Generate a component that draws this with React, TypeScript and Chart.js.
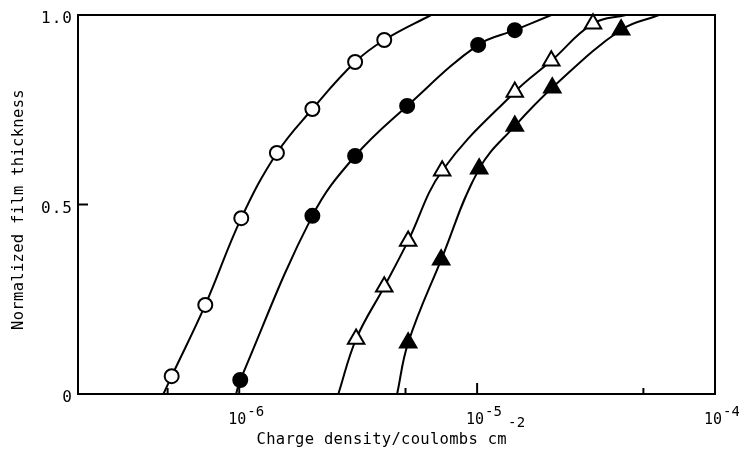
import React, { useEffect, useRef } from 'react';
import { Chart, registerables } from 'chart.js';

Chart.register(...registerables);

// ---- Data ----
// Open circles
const openCircleX = [5.2e-7, 7.2e-7, 1.02e-6, 1.44e-6, 2.03e-6, 3.07e-6, 4.07e-6];
const openCircleY = [0.047, 0.235, 0.464, 0.636, 0.752, 0.876, 0.934];
const openCircleCurveEnds = [4.8e-7, 6.4e-6];

// Filled circles
const filledCircleX = [1.01e-6, 2.03e-6, 3.07e-6, 5.08e-6, 1.01e-5, 1.44e-5];
const filledCircleY = [0.037, 0.47, 0.628, 0.76, 0.921, 0.96];
const filledCircleCurveEnds = [9.7e-7, 2.05e-5];

// Open triangles
const openTriangleX = [3.1e-6, 4.07e-6, 5.13e-6, 7.13e-6, 1.44e-5, 2.05e-5, 3.07e-5];
const openTriangleY = [0.145, 0.283, 0.404, 0.589, 0.797, 0.879, 0.977];
const openTriangleCurveEnds = [2.61e-6, 4.22e-5];

// Filled triangles
const filledTriangleX = [5.13e-6, 7.06e-6, 1.02e-5, 1.44e-5, 2.07e-5, 4.03e-5];
const filledTriangleY = [0.135, 0.354, 0.594, 0.707, 0.808, 0.961];
const filledTriangleCurveEnds = [4.61e-6, 5.82e-5];

// Axes
const xMin = 2.1e-7;
const xMax = 1e-4;
const xLabelValues = [1e-6, 1e-5, 1e-4];
const xLabelExponents = ['-6', '-5', '-4'];
const xMajorTicks = [1e-6, 1e-5];
const xMinorTicks = [5e-7, 5e-6, 5e-5];
const yLabelValues = [0, 0.5, 1.0];
const yLabels = ['0', '0.5', '1.0'];
const yTicks = [0.5];
const xTitle = 'Charge density/coulombs cm';
const xTitleExp = '-2';
const yTitle = 'Normalized film thickness';

const FONT = '"DejaVu Sans Mono", "Liberation Mono", monospace';

export default function App() {
  const ref = useRef<HTMLCanvasElement>(null);

  useEffect(() => {
    const canvas = ref.current;
    if (!canvas) return;

    const series = [
      { xs: openCircleX, ys: openCircleY, ends: openCircleCurveEnds, style: 'circle', fill: '#ffffff', r: 7 },
      { xs: filledCircleX, ys: filledCircleY, ends: filledCircleCurveEnds, style: 'circle', fill: '#000000', r: 7 },
      { xs: openTriangleX, ys: openTriangleY, ends: openTriangleCurveEnds, style: 'triangle', fill: '#ffffff', r: 9.5 },
      { xs: filledTriangleX, ys: filledTriangleY, ends: filledTriangleCurveEnds, style: 'triangle', fill: '#000000', r: 9.5 },
    ];

    const datasets = series.map((s) => {
      const data = [
        { x: s.ends[0], y: 0 },
        ...s.xs.map((x, i) => ({ x, y: s.ys[i] })),
        { x: s.ends[1], y: 1 },
      ];
      const radii = data.map((_, i) => (i === 0 || i === data.length - 1 ? 0 : s.r));
      return {
        data,
        showLine: true,
        borderColor: '#000',
        borderWidth: 2,
        tension: 0.4,
        pointRadius: radii,
        pointHoverRadius: radii,
        pointStyle: s.style as any,
        pointBackgroundColor: s.fill,
        pointBorderColor: '#000',
        pointBorderWidth: 2,
        fill: false,
        clip: false as any,
      };
    });

    const framePlugin = {
      id: 'frame',
      beforeDatasetsDraw(chart: any) {
        const { ctx, chartArea } = chart;
        const xs = chart.scales.x;
        const ys = chart.scales.y;
        const { left, right, top, bottom } = chartArea;
        ctx.save();
        ctx.strokeStyle = '#000';
        ctx.lineWidth = 2;
        ctx.strokeRect(left, top, right - left, bottom - top);
        xMajorTicks.forEach((v) => {
          const px = xs.getPixelForValue(v);
          ctx.beginPath();
          ctx.moveTo(px, bottom);
          ctx.lineTo(px, bottom - 11);
          ctx.stroke();
        });
        xMinorTicks.forEach((v) => {
          const px = xs.getPixelForValue(v);
          ctx.beginPath();
          ctx.moveTo(px, bottom);
          ctx.lineTo(px, bottom - 6);
          ctx.stroke();
        });
        yTicks.forEach((v) => {
          const py = ys.getPixelForValue(v);
          ctx.beginPath();
          ctx.moveTo(left, py);
          ctx.lineTo(left + 10, py);
          ctx.stroke();
        });
        ctx.restore();
      },
      afterDraw(chart: any) {
        const { ctx, chartArea } = chart;
        const xs = chart.scales.x;
        const ys = chart.scales.y;
        const { left, right, top, bottom } = chartArea;
        ctx.save();
        ctx.fillStyle = '#000';
        const setLS = (v: string) => { try { (ctx as any).letterSpacing = v; } catch (e) {} };
        // y tick labels
        setLS('1px');
        ctx.font = `16px ${FONT}`;
        ctx.textAlign = 'left';
        ctx.textBaseline = 'middle';
        yLabelValues.forEach((v, i) => {
          const py = ys.getPixelForValue(v);
          const w = ctx.measureText(yLabels[i]).width;
          ctx.fillText(yLabels[i], left - 6 - w + 1, py + 4);
        });
        // x tick labels with superscripts
        setLS('0px');
        ctx.textBaseline = 'alphabetic';
        xLabelValues.forEach((v, i) => {
          const px = xs.getPixelForValue(v);
          ctx.font = `15px ${FONT}`;
          ctx.textAlign = 'right';
          ctx.fillText('10', px + 7, bottom + 30);
          ctx.font = `14px ${FONT}`;
          ctx.textAlign = 'left';
          ctx.fillText(xLabelExponents[i], px + 8, bottom + 22);
        });
        // x title
        setLS('0.3px');
        ctx.font = `15.5px ${FONT}`;
        const wBase = ctx.measureText(xTitle).width;
        ctx.font = `14px ${FONT}`;
        const wExp = ctx.measureText(xTitleExp).width;
        const startX = (left + right) / 2 - 5 - (wBase + wExp + 2) / 2;
        ctx.font = `15.5px ${FONT}`;
        ctx.textAlign = 'left';
        ctx.fillText(xTitle, startX, bottom + 50);
        ctx.font = `14px ${FONT}`;
        ctx.fillText(xTitleExp, startX + wBase + 1, bottom + 33);
        // y title
        ctx.font = `15.5px ${FONT}`;
        ctx.translate(19, (top + bottom) / 2 + 5);
        ctx.rotate(-Math.PI / 2);
        ctx.textAlign = 'center';
        ctx.textBaseline = 'middle';
        ctx.fillText(yTitle, 0, 0);
        ctx.restore();
      },
    };

    const chart = new Chart(canvas, {
      type: 'scatter',
      data: { datasets: datasets as any },
      options: {
        animation: false,
        responsive: false,
        maintainAspectRatio: false,
        layout: { padding: { left: 78, right: 24, top: 15, bottom: 56 } },
        plugins: { legend: { display: false }, tooltip: { enabled: false } },
        scales: {
          x: { type: 'logarithmic', display: false, min: xMin, max: xMax },
          y: { type: 'linear', display: false, min: 0, max: 1 },
        },
      },
      plugins: [framePlugin],
    });

    return () => chart.destroy();
  }, []);

  return (
    <canvas
      ref={ref}
      width={739}
      height={450}
      style={{ position: 'absolute', left: 0, top: 0, width: 739, height: 450, background: '#fff' }}
    />
  );
}
